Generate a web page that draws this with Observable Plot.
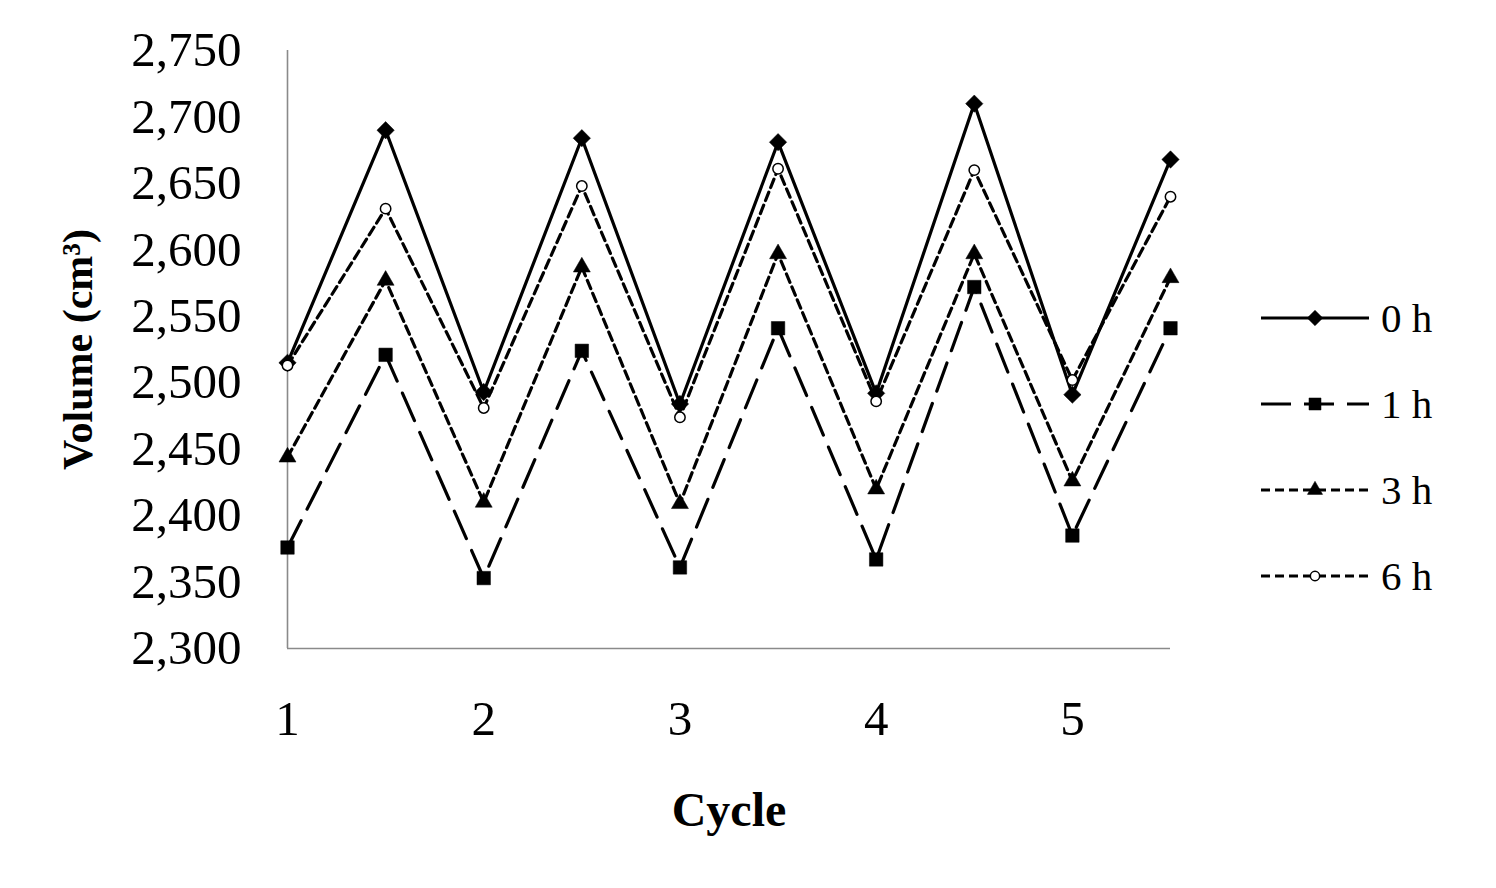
<!DOCTYPE html>
<html>
<head>
<meta charset="utf-8">
<script src="https://cdn.jsdelivr.net/npm/d3@7"></script>
<script src="https://cdn.jsdelivr.net/npm/@observablehq/plot@0.6"></script>
<style>
  html, body { margin: 0; padding: 0; background: #fff; }
  #chart { width: 1496px; height: 888px; }
</style>
</head>
<body>
<div id="chart"></div>
<script>
// ---- data ----
const cycles = [1, 1.5, 2, 2.5, 3, 3.5, 4, 4.5, 5, 5.5];
const xTicks = [1, 2, 3, 4, 5];
const yTicks = [2300, 2350, 2400, 2450, 2500, 2550, 2600, 2650, 2700, 2750];
const seriesNames = ["0 h", "1 h", "3 h", "6 h"];
const v0h = [2515, 2690, 2493, 2684, 2484, 2681, 2492, 2710, 2491, 2668];
const v1h = [2376, 2521, 2353, 2524, 2361, 2541, 2367, 2572, 2385, 2541];
const v3h = [2444, 2577, 2410, 2587, 2409, 2597, 2420, 2597, 2426, 2579];
const v6h = [2513, 2631, 2481, 2648, 2474, 2661, 2486, 2660, 2502, 2640];
const xLabel = "Cycle";
const yLabel = "Volume (cm³)";

// ---- styles ----
const styles = {
  "0 h": {dash: null, symbol: "diamond2", fill: "black", r: 7.8},
  "1 h": {dash: "30,13", symbol: "square", fill: "black", r: 7.6},
  "3 h": {dash: "9,5", symbol: "triangle", fill: "black", r: 6.3},
  "6 h": {dash: "9,5", symbol: "circle", fill: "white", r: 5.2}
};
const valuesBySeries = {"0 h": v0h, "1 h": v1h, "3 h": v3h, "6 h": v6h};
const rows = seriesNames.flatMap(s => cycles.map((c, i) => ({series: s, cycle: c, volume: valuesBySeries[s][i]})));

const font = "'Liberation Serif', 'Times New Roman', serif";

const marks = [
  Plot.ruleX([1], {stroke: "#8a8a8a", strokeWidth: 1.6}),
  Plot.ruleY([2300], {stroke: "#8a8a8a", strokeWidth: 1.6}),
  Plot.axisY({ticks: yTicks, tickSize: 0, tickPadding: 46, tickFormat: d3.format(","), fontSize: 49, label: null}),
  Plot.axisX({ticks: xTicks, tickSize: 0, tickPadding: 52, tickFormat: d3.format("d"), fontSize: 49, label: null}),
];
for (const s of seriesNames) {
  const st = styles[s];
  const data = rows.filter(d => d.series === s);
  marks.push(Plot.line(data, {x: "cycle", y: "volume", stroke: "black", strokeWidth: 3.2, strokeDasharray: st.dash}));
}
for (const s of seriesNames) {
  const st = styles[s];
  const data = rows.filter(d => d.series === s);
  marks.push(Plot.dot(data, {x: "cycle", y: "volume", symbol: () => st.symbol, r: st.r, fill: st.fill, stroke: "black", strokeWidth: st.fill === "white" ? 1.5 : 0.5}));
}
marks.push(Plot.text([yLabel], {frameAnchor: "left", textAnchor: "middle", lineAnchor: "middle", dx: -209, rotate: -90, fontWeight: "bold", fontSize: 42, text: d => d}));
marks.push(Plot.text([xLabel], {frameAnchor: "bottom", textAnchor: "middle", lineAnchor: "middle", dy: 162, fontWeight: "bold", fontSize: 48, text: d => d}));

const chart = Plot.plot({
  width: 1496,
  height: 888,
  marginTop: 50,
  marginBottom: 240,
  marginLeft: 287,
  marginRight: 326,
  style: {fontFamily: font, color: "black", background: "white", overflow: "visible"},
  x: {domain: [1, 5.5]},
  y: {domain: [2300, 2750]},
  symbol: {type: "identity"},
  marks
});
document.getElementById("chart").appendChild(chart);

// ---- legend (right side) ----
const svg = d3.select(chart);
const lg = svg.append("g").attr("class", "legend");
const legendX0 = 1261, legendX1 = 1369, legendY0 = 318, legendStep = 86;
const symMap = {diamond2: d3.symbolDiamond2, square: d3.symbolSquare, triangle: d3.symbolTriangle, circle: d3.symbolCircle};
seriesNames.forEach((s, i) => {
  const st = styles[s];
  const y = legendY0 + i * legendStep;
  lg.append("line").attr("x1", legendX0).attr("x2", legendX1).attr("y1", y).attr("y2", y)
    .attr("stroke", "black").attr("stroke-width", 3).attr("stroke-dasharray", st.dash);
  lg.append("path").attr("transform", `translate(${(legendX0 + legendX1) / 2},${y})`)
    .attr("d", d3.symbol(symMap[st.symbol], Math.PI * st.r * st.r * 0.8)())
    .attr("fill", st.fill).attr("stroke", "black").attr("stroke-width", st.fill === "white" ? 1.5 : 0.5);
  lg.append("text").attr("x", 1381).attr("y", y).attr("dy", "0.35em")
    .attr("text-anchor", "start")
    .attr("font-family", font).attr("font-size", 41).text(s);
});
</script>
</body>
</html>
